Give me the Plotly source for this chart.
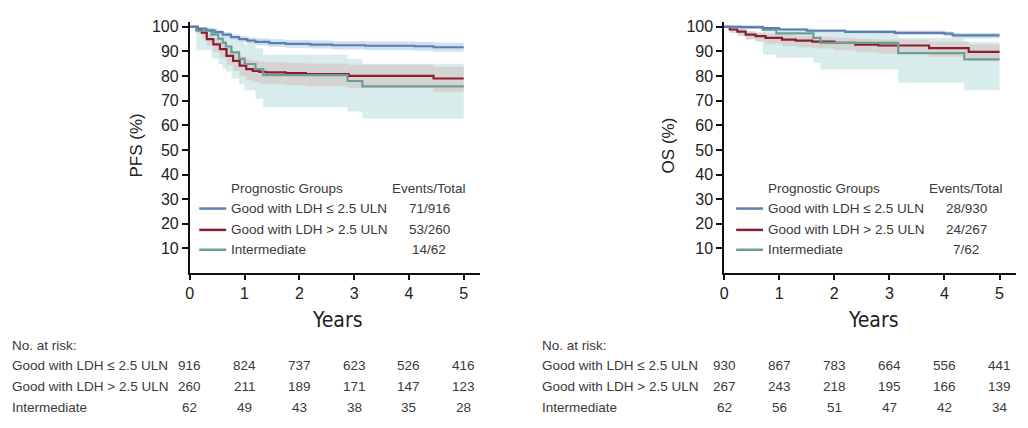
import plotly.graph_objects as go

# ---- PFS (left panel) ----
pfs_blue_t = [0, 0.15, 0.3, 0.45, 0.6, 0.75, 0.9, 1.05, 1.2, 1.45, 1.75, 2.2, 2.6, 3.2, 4.1, 4.45, 5.0]
pfs_blue_s = [100, 99.3, 98.6, 97.8, 96.8, 95.8, 95.0, 94.4, 93.9, 93.4, 93.1, 92.8, 92.5, 92.3, 92.1, 91.7, 91.7]
pfs_blue_lo = [100, 98.7, 97.8, 96.8, 95.7, 94.6, 93.7, 93.0, 92.4, 91.9, 91.5, 91.2, 90.8, 90.6, 90.3, 89.9, 89.9]
pfs_blue_hi = [100, 99.8, 99.3, 98.7, 97.8, 96.9, 96.2, 95.7, 95.3, 94.9, 94.6, 94.4, 94.1, 94.0, 93.8, 93.5, 93.5]

pfs_red_t = [0, 0.13, 0.22, 0.31, 0.43, 0.55, 0.67, 0.79, 0.91, 1.03, 1.15, 1.27, 1.39, 1.75, 2.12, 2.9, 4.45, 5.0]
pfs_red_s = [100, 98.8, 97.6, 95.0, 92.9, 90.9, 88.2, 86.2, 84.2, 82.8, 82.1, 81.7, 81.5, 81.2, 80.8, 80.1, 79.0, 79.0]
pfs_red_lo = [100, 97.5, 95.7, 92.4, 89.8, 87.4, 84.4, 82.1, 79.9, 78.3, 77.5, 77.0, 76.7, 76.3, 75.8, 75.0, 73.6, 73.6]
pfs_red_hi = [100, 99.7, 98.9, 97.1, 95.4, 93.7, 91.5, 89.7, 88.0, 86.8, 86.2, 85.9, 85.7, 85.4, 85.1, 84.6, 83.8, 83.8]

pfs_teal_t = [0, 0.12, 0.4, 0.52, 0.6, 0.66, 0.76, 0.9, 1.0, 1.2, 1.34, 2.88, 3.15, 5.0]
pfs_teal_s = [100, 98.4, 96.8, 95.2, 93.6, 92.0, 89.6, 87.0, 84.9, 82.8, 80.4, 78.0, 75.8, 75.8]
pfs_teal_lo = [100, 90.5, 87.0, 84.8, 83.0, 81.8, 79.0, 76.8, 74.2, 70.8, 67.3, 65.6, 62.8, 62.8]
pfs_teal_hi = [100, 99.8, 99.3, 98.5, 98.0, 97.6, 96.4, 94.5, 92.9, 91.3, 88.7, 87.0, 85.0, 85.0]

# ---- OS (right panel) ----
os_blue_t = [0, 0.3, 0.7, 1.0, 1.5, 2.2, 3.1, 4.0, 4.15, 5.0]
os_blue_s = [100, 99.8, 99.5, 98.9, 98.4, 97.9, 97.5, 97.2, 96.5, 96.5]
os_blue_lo = [100, 99.4, 99.0, 98.2, 97.6, 97.0, 96.6, 96.2, 95.4, 95.4]
os_blue_hi = [100, 100, 99.9, 99.5, 99.1, 98.7, 98.4, 98.1, 97.5, 97.5]

os_red_t = [0, 0.1, 0.24, 0.39, 0.57, 0.75, 1.05, 1.3, 1.6, 2.0, 2.38, 2.8, 3.72, 4.44, 5.0]
os_red_s = [100, 98.9, 98.0, 96.8, 96.2, 95.5, 94.8, 94.4, 94.0, 93.5, 92.8, 92.4, 91.3, 89.8, 89.8]
os_red_lo = [100, 97.6, 96.4, 94.8, 94.0, 93.1, 92.2, 91.7, 91.2, 90.5, 89.7, 89.1, 87.8, 86.0, 86.0]
os_red_hi = [100, 99.6, 99.1, 98.2, 97.7, 97.2, 96.7, 96.3, 96.0, 95.6, 95.1, 94.8, 94.0, 92.8, 92.8]

os_teal_t = [0, 0.70, 0.95, 1.62, 1.75, 3.16, 4.36, 5.0]
os_teal_s = [100, 98.8, 97.3, 95.5, 93.5, 89.3, 86.8, 86.8]
os_teal_lo = [100, 88.8, 87.4, 85.4, 82.7, 77.3, 74.2, 74.2]
os_teal_hi = [100, 99.8, 99.5, 98.8, 97.8, 95.6, 93.8, 93.8]

# ---- legend / risk table text ----
groups = ['Good with LDH \u2264 2.5 ULN', 'Good with LDH > 2.5 ULN', 'Intermediate']
pfs_events = ['71/916', '53/260', '14/62']
os_events = ['28/930', '24/267', '7/62']
risk_years = [0, 1, 2, 3, 4, 5]
pfs_risk = [[916, 824, 737, 623, 526, 416],
            [260, 211, 189, 171, 147, 123],
            [62, 49, 43, 38, 35, 28]]
os_risk = [[930, 867, 783, 664, 556, 441],
           [267, 243, 218, 195, 166, 139],
           [62, 56, 51, 47, 42, 34]]

BLUE = '#5b7fae'
RED = '#8c1c2f'
TEAL = '#6c9d97'
BLUE_CI = '#cfe0f0'
RED_CI = '#d6d3d3'
TEAL_CI = '#d8ecec'
FONT = 'Liberation Sans, Arial, sans-serif'
NARROW = 'Liberation Sans Narrow, DejaVu Sans Condensed, Arial, sans-serif'
W, H = 1028, 428


def px(x):
    return x / W


def py(y):
    return 1 - y / H


fig = go.Figure()


def add_km(xa, ya, t, lo, hi, ci_color):
    fig.add_trace(go.Scatter(x=t, y=lo, mode='lines', line=dict(width=0, shape='hv'),
                             xaxis=xa, yaxis=ya, showlegend=False, hoverinfo='skip'))
    fig.add_trace(go.Scatter(x=t, y=hi, mode='lines', line=dict(width=0, shape='hv'),
                             fill='tonexty', fillcolor=ci_color,
                             xaxis=xa, yaxis=ya, showlegend=False, hoverinfo='skip'))


def add_line(xa, ya, t, s, color, name):
    fig.add_trace(go.Scatter(x=t, y=s, mode='lines', line=dict(width=2.2, color=color, shape='hv'),
                             xaxis=xa, yaxis=ya, showlegend=False, name=name))


# left panel
add_km('x', 'y', pfs_teal_t, pfs_teal_lo, pfs_teal_hi, TEAL_CI)
add_km('x', 'y', pfs_red_t, pfs_red_lo, pfs_red_hi, RED_CI)
add_km('x', 'y', pfs_blue_t, pfs_blue_lo, pfs_blue_hi, BLUE_CI)
add_line('x', 'y', pfs_red_t, pfs_red_s, RED, groups[1])
add_line('x', 'y', pfs_teal_t, pfs_teal_s, TEAL, groups[2])
add_line('x', 'y', pfs_blue_t, pfs_blue_s, BLUE, groups[0])

# right panel
add_km('x2', 'y2', os_teal_t, os_teal_lo, os_teal_hi, TEAL_CI)
add_km('x2', 'y2', os_red_t, os_red_lo, os_red_hi, RED_CI)
add_km('x2', 'y2', os_blue_t, os_blue_lo, os_blue_hi, BLUE_CI)
add_line('x2', 'y2', os_red_t, os_red_s, RED, groups[1])
add_line('x2', 'y2', os_teal_t, os_teal_s, TEAL, groups[2])
add_line('x2', 'y2', os_blue_t, os_blue_s, BLUE, groups[0])

xax = dict(range=[0, 5.3], tickvals=risk_years, showline=True, linecolor='#111', linewidth=1.8,
           ticks='outside', ticklen=5, tickwidth=1.5, tickcolor='#111', showgrid=False, zeroline=False,
           tickfont=dict(size=16, color='#222', family=FONT), ticklabelstandoff=0)
yax = dict(range=[0, 102], tickvals=[10, 20, 30, 40, 50, 60, 70, 80, 90, 100], showline=True,
           linecolor='#111', linewidth=1.8, ticks='outside', ticklen=6, tickwidth=1.5, tickcolor='#111',
           showgrid=False, zeroline=False, tickfont=dict(size=16, color='#222', family=FONT))

ydom = [py(272), py(19)]
fig.update_layout(
    width=W, height=H, autosize=False,
    margin=dict(l=0, r=0, t=0, b=0),
    paper_bgcolor='white', plot_bgcolor='white',
    font=dict(family=FONT, color='#333'),
    xaxis=dict(xax, domain=[px(186.5), px(478)], anchor='y'),
    yaxis=dict(yax, domain=ydom, anchor='x'),
    xaxis2=dict(xax, domain=[px(723), px(1016)], anchor='y2'),
    yaxis2=dict(yax, domain=ydom, anchor='x2'),
)

ann = []
shapes = []


def txt(x, y, s, size=13.5, anchor='left', color='#3a3a3a', family=FONT, angle=0, xref='paper'):
    ann.append(dict(x=x, y=y, xref=xref, yref='paper', text=s, showarrow=False, xanchor=anchor,
                    yanchor='middle', textangle=angle, borderpad=0,
                    font=dict(size=size, color=color, family=family)))


# axis titles
txt(px(134), py(143), 'PFS (%)', size=17, anchor='center', color='#222', angle=-90)
txt(px(668), py(143), 'OS (%)', size=17, anchor='center', color='#222', angle=-90)
txt(px(335), py(319), 'Years', size=21, anchor='center', color='#222', family=NARROW)
txt(px(873), py(319), 'Years', size=21, anchor='center', color='#222', family=NARROW)

# in-plot legends
legend_rows = [207, 228.5, 248.5]
colors = [BLUE, RED, TEAL]
for (lx0, tx, ex, events) in [(196, 227, 427, pfs_events), (735, 766, 966, os_events)]:
    txt(px(tx), py(186.5), 'Prognostic Groups')
    txt(px(ex), py(186.5), 'Events/Total', anchor='center')
    for yy, g, c, e in zip(legend_rows, groups, colors, events):
        shapes.append(dict(type='line', xref='paper', yref='paper', x0=px(lx0), x1=px(lx0 + 27),
                           y0=py(yy), y1=py(yy), line=dict(color=c, width=2.5)))
        txt(px(tx), py(yy), g)
        txt(px(ex), py(yy), e, anchor='center')

# risk tables
risk_rows = [365, 386.5, 407]
for (lx, xr, risk) in [(7, 'x', pfs_risk), (539, 'x2', os_risk)]:
    txt(px(lx), py(344.5), 'No. at risk:')
    for yy, g, vals in zip(risk_rows, groups, risk):
        txt(px(lx), py(yy), g)
        for yr, v in zip(risk_years, vals):
            txt(yr, py(yy), str(v), anchor='center', xref=xr)

fig.update_layout(annotations=ann, shapes=shapes)
fig.write_html('out.html', config={'displayModeBar': False},
               post_script="document.body.style.margin='0';")
